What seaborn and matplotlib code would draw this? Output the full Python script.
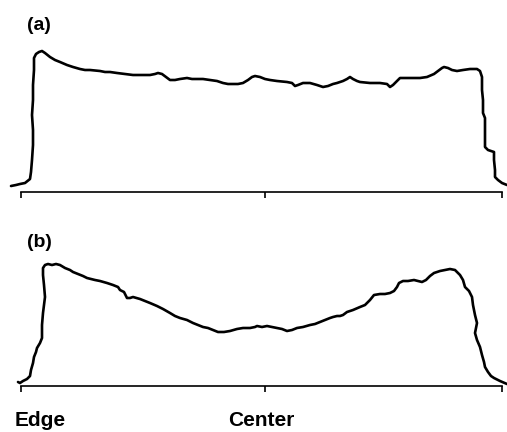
import matplotlib
matplotlib.use("Agg")
import matplotlib.pyplot as plt
import seaborn as sns
import pandas as pd

sns.set_style("white")
plt.rcParams["font.family"] = ["Liberation Sans", "DejaVu Sans"]
plt.rcParams["text.color"] = "black"

# Scan position across the film (edge tick, center tick, far edge tick)
tick_pos = [21, 265, 502]
tick_names = ["Edge", "Center", ""]

# Profile (a): nearly flat plateau
pos_a = [11, 16, 20, 25, 30, 31, 32, 33, 33, 32, 33, 33, 34, 34, 36, 39, 42, 45, 50, 55,
         60, 67, 73, 80, 85, 90, 100, 105, 110, 117, 125, 133, 140, 150, 155, 158, 162, 166, 170, 175,
         180, 187, 192, 197, 203, 210, 217, 223, 228, 233, 238, 243, 248, 252, 255, 260, 265, 270, 277, 287,
         292, 295, 298, 303, 310, 317, 323, 328, 333, 337, 343, 347, 350, 353, 357, 360, 370, 380, 387, 390,
         393, 397, 400, 407, 413, 420, 427, 434, 438, 442, 444, 448, 452, 457, 463, 470, 477, 480, 482, 482,
         483, 483, 485, 485, 485, 485, 488, 494, 494, 495, 495, 498, 502, 507]
int_a = [6, 7, 8, 9, 13, 20, 32, 47, 62, 77, 92, 107, 122, 134, 138, 140, 141, 139, 135, 132,
         130, 127, 125, 123, 122, 122, 121, 120, 120, 119, 118, 117, 117, 117, 118, 119, 118, 115, 112, 112,
         113, 114, 113, 113, 113, 112, 111, 109, 108, 108, 108, 109, 112, 115, 116, 115, 113, 112, 111, 110,
         109, 106, 107, 109, 109, 107, 105, 106, 108, 109, 111, 113, 115, 113, 111, 110, 109, 109, 108, 105,
         107, 111, 114, 114, 114, 114, 115, 118, 121, 124, 125, 124, 122, 121, 122, 123, 123, 121, 115, 102,
         92, 79, 74, 62, 52, 45, 42, 40, 32, 22, 15, 12, 9, 7]

# Profile (b): edge-enhanced, dipping toward the center
pos_b = [18, 20, 23, 27, 30, 31, 33, 34, 36, 37, 40, 42, 42, 43, 44, 45, 44, 43, 43, 45,
         48, 52, 56, 60, 65, 70, 73, 78, 83, 87, 95, 100, 107, 113, 118, 120, 124, 127, 130, 133,
         140, 145, 150, 157, 163, 170, 175, 180, 187, 193, 198, 203, 208, 213, 218, 224, 230, 237, 243, 250,
         255, 257, 262, 267, 272, 277, 282, 287, 292, 297, 303, 310, 315, 320, 325, 330, 333, 337, 340, 343,
         347, 353, 360, 365, 370, 374, 380, 385, 390, 394, 397, 399, 403, 408, 414, 418, 422, 426, 430, 434,
         440, 445, 450, 455, 460, 463, 465, 469, 472, 473, 475, 477, 475, 477, 480, 482, 484, 485, 488, 491,
         494, 500, 507]
int_b = [4, 3, 5, 7, 10, 16, 23, 29, 34, 38, 43, 48, 61, 73, 81, 89, 101, 111, 118, 121,
         122, 121, 122, 121, 118, 116, 114, 112, 110, 108, 106, 105, 103, 101, 99, 96, 94, 88, 88, 89,
         87, 85, 83, 80, 77, 73, 70, 68, 66, 63, 61, 59, 58, 56, 54, 54, 55, 57, 58, 58,
         59, 60, 59, 60, 59, 58, 57, 55, 56, 58, 59, 61, 62, 64, 66, 68, 69, 70, 70, 71,
         74, 76, 79, 81, 86, 91, 92, 92, 93, 95, 99, 103, 105, 105, 106, 105, 104, 106, 110, 113,
         115, 116, 117, 116, 111, 106, 99, 95, 89, 81, 71, 63, 53, 46, 39, 31, 24, 19, 14, 10,
         8, 5, 2]

W, H = 507, 432
fig = plt.figure(figsize=(W / 100, H / 100), dpi=100)
fig.patch.set_facecolor("white")


def panel(bottom_px, pos, vals):
    ax = fig.add_axes([0, 1 - bottom_px / H, 1, 152 / H])
    df = pd.DataFrame({"pos": pos, "val": vals})
    sns.lineplot(data=df, x="pos", y="val", sort=False, estimator=None,
                 color="black", lw=1.9, ax=ax)
    ax.set_xlim(0, W)
    ax.set_ylim(0, 152)
    for s in ("left", "right", "top"):
        ax.spines[s].set_visible(False)
    ax.spines["bottom"].set_bounds(tick_pos[0], tick_pos[-1])
    ax.spines["bottom"].set_linewidth(1.2)
    ax.spines["bottom"].set_color("black")
    ax.set_xticks(tick_pos)
    ax.set_xticklabels([])
    ax.set_yticks([])
    ax.tick_params(axis="x", direction="out", length=4.5, width=1.2, color="black", bottom=True)
    ax.set_xlabel("")
    ax.set_ylabel("")
    ax.patch.set_alpha(0)
    return ax


ax_a = panel(192, pos_a, int_a)
ax_b = panel(386, pos_b, int_b)

fig.text(39 / W, 1 - 26 / H, "(a)", ha="center", va="center", fontsize=14,
         fontweight="bold", color="black")
fig.text(39 / W, 1 - 242 / H, "(b)", ha="center", va="center", fontsize=14,
         fontweight="bold", color="black")

for x, name in zip([40, 261], tick_names[:2]):
    fig.text(x / W, 1 - 421 / H, name, ha="center", va="center", fontsize=15,
             fontweight="bold", color="black")

fig.savefig("out.png", dpi=100, facecolor="white")
